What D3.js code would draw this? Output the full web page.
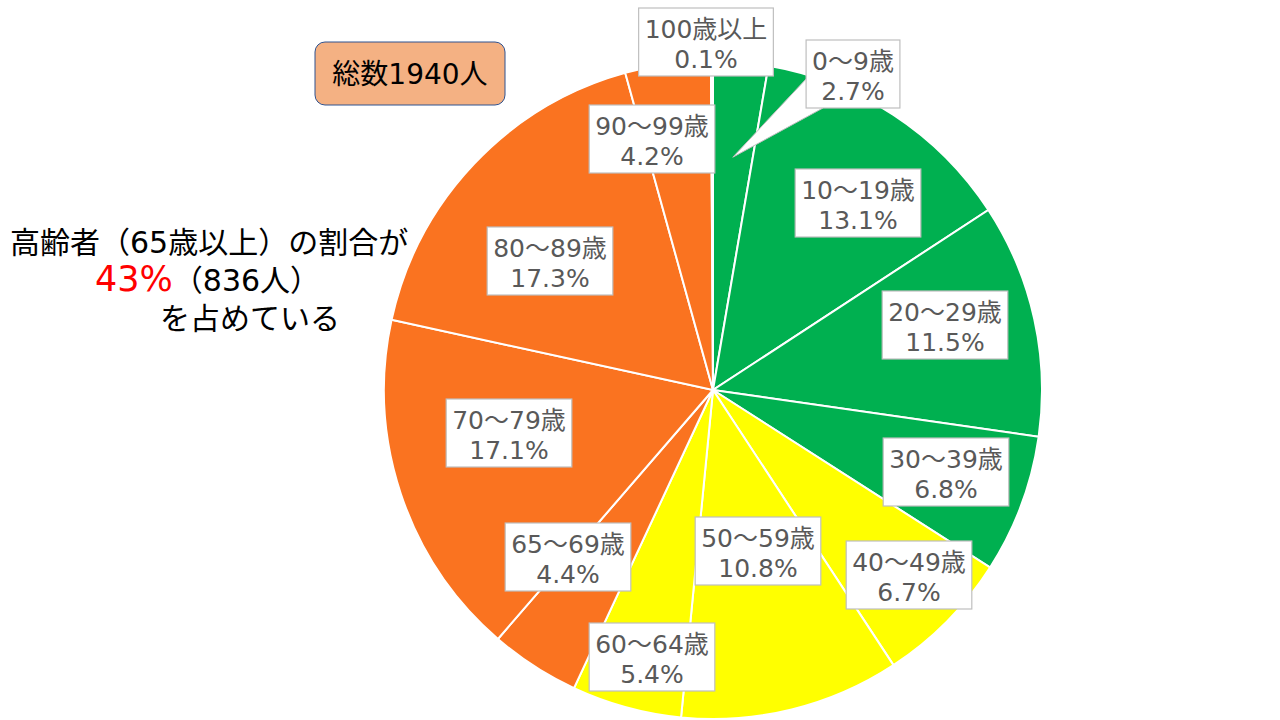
<!DOCTYPE html>
<html>
<head>
<meta charset="utf-8">
<script src="https://cdn.jsdelivr.net/npm/d3@7"></script>
<style>
  body { margin: 0; background: #fff; }
  svg { display: block; font-family: "DejaVu Sans", "Noto Sans CJK JP", sans-serif; }
</style>
</head>
<body>
<div class="canvas"></div>
<script>
// age groups, share in percent, colour group
const ageGroups = ["0～9歳", "10～19歳", "20～29歳", "30～39歳", "40～49歳", "50～59歳",
  "60～64歳", "65～69歳", "70～79歳", "80～89歳", "90～99歳", "100歳以上"];
const shares = [2.7, 13.1, 11.5, 6.8, 6.7, 10.8, 5.4, 4.4, 17.1, 17.3, 4.2, 0.1];
const groups = ["young", "young", "young", "young", "middle", "middle",
  "middle", "elder", "elder", "elder", "elder", "elder"];

// label box centres, offset from the pie centre (layout only)
const labelOffsets = [[140, -316], [145, -187], [232, -65], [233, 82], [196, 185], [45, 161],
  [-61, 267], [-145, 167], [-204, 43], [-163, -129], [-61, -251], [-7, -348]];

const w = 1280;
const h = 720;
const cx = 713;
const cy = 390;
const radius = 329;

const color = d3.scaleOrdinal()
  .domain(["young", "middle", "elder"])
  .range(["#00B050", "#FFFF00", "#FA7320"]);

const svg = d3.select(".canvas")
  .append("svg")
  .attr("width", w)
  .attr("height", h);

const data = ageGroups.map((g, i) => ({ group: g, share: shares[i], kind: groups[i] }));

const pie = d3.pie()
  .value(d => d.share)
  .sort(null);

const arc = d3.arc()
  .innerRadius(0)
  .outerRadius(radius);

const graph = svg.append("g")
  .attr("transform", `translate(${cx}, ${cy})`);

const arcs = pie(data);

graph.selectAll("path.slice")
  .data(arcs)
  .enter()
  .append("path")
  .attr("class", "slice")
  .attr("d", arc)
  .attr("fill", d => color(d.data.kind))
  .attr("stroke", "#fff")
  .attr("stroke-width", 2);

// callout pointer for the thin 0~9 slice
const first = arcs[0];
const tipAngle = (first.startAngle + first.endAngle) / 2;
const tip = [Math.sin(tipAngle) * radius * 0.71, -Math.cos(tipAngle) * radius * 0.71];
const off0 = labelOffsets[0];
graph.append("path")
  .attr("d", `M${tip[0]},${tip[1]} L${off0[0] - 46},${off0[1] + 4} L${off0[0] - 30},${off0[1] + 34} Z`)
  .attr("fill", "#fff")
  .attr("stroke", "#bfbfbf")
  .attr("stroke-width", 1);

// data labels
const labels = graph.selectAll("g.label")
  .data(arcs)
  .enter()
  .append("g")
  .attr("class", "label")
  .attr("transform", d => `translate(${labelOffsets[d.index][0]}, ${labelOffsets[d.index][1]})`);

labels.append("rect")
  .attr("fill", "#fff")
  .attr("stroke", "#bfbfbf")
  .attr("stroke-width", 1.2);

const txt = labels.append("text")
  .attr("text-anchor", "middle")
  .attr("fill", "#595959")
  .attr("font-size", 25);

txt.append("tspan")
  .attr("x", 0)
  .attr("y", -4)
  .text(d => d.data.group);
txt.append("tspan")
  .attr("x", 0)
  .attr("y", 26)
  .text(d => d.data.share.toFixed(1) + "%");

txt.each(function () {
  const bw = this.getBBox().width + 12;
  d3.select(this.parentNode).select("rect")
    .attr("x", -bw / 2)
    .attr("y", -34)
    .attr("width", bw)
    .attr("height", 68);
});

// total box
svg.append("rect")
  .attr("x", 315)
  .attr("y", 42)
  .attr("width", 190)
  .attr("height", 63)
  .attr("rx", 10)
  .attr("fill", "#F4B183")
  .attr("stroke", "#2F528F")
  .attr("stroke-width", 1);

svg.append("text")
  .attr("x", 410)
  .attr("y", 84)
  .attr("text-anchor", "middle")
  .attr("font-size", 28)
  .attr("fill", "#000")
  .text("総数1940人");

// note on the left
const note = svg.append("g")
  .attr("font-size", 30)
  .attr("fill", "#000");

note.append("text")
  .attr("x", 10)
  .attr("y", 253)
  .text("高齢者（65歳以上）の割合が");

const line2 = note.append("text")
  .attr("x", 95)
  .attr("y", 291);
line2.append("tspan").attr("fill", "#FF0000").attr("font-size", 35).text("43%");
line2.append("tspan").text("（836人）");

note.append("text")
  .attr("x", 160)
  .attr("y", 329)
  .text("を占めている");
</script>
</body>
</html>
